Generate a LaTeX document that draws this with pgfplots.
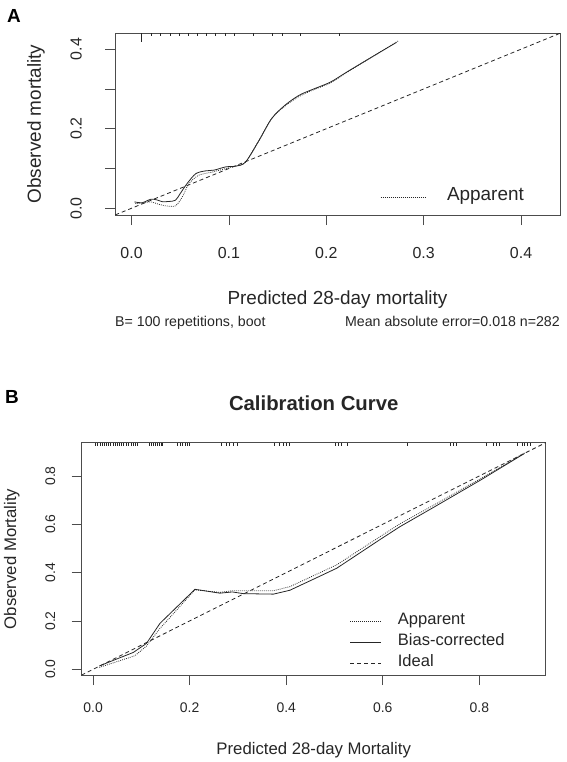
\documentclass[border=0pt]{standalone}
\usepackage{fontspec}
\setmainfont{Liberation Sans}
\usepackage{pgfplots}
\pgfplotsset{compat=1.18}
\definecolor{ink}{gray}{0.15}
\definecolor{boxc}{gray}{0.3}

\begin{document}
\begin{tikzpicture}
\path[use as bounding box] (0bp,0bp) rectangle (567bp,-762bp);

% ---------------- Panel A ----------------
\begin{axis}[
  scale only axis, width=445bp, height=181.7bp,
  at={(115bp,-215bp)}, anchor=south west,
  xmin=-0.017, xmax=0.44, ymin=-0.017, ymax=0.44,
  axis line style={boxc, line width=0.8bp},
  tick style={boxc, line width=0.8bp},
  tick align=outside, major tick length=10bp, tick pos=left,
  xtick={0,0.1,0.2,0.3,0.4}, xticklabels={0.0,0.1,0.2,0.3,0.4},
  ytick={0,0.1,0.2,0.3,0.4}, yticklabels={0.0,,0.2,,0.4},
  /pgf/number format/assume math mode=true,
  ticklabel style={font=\fontsize{16}{19}\selectfont, inner sep=0pt, text=ink},
  xticklabel style={anchor=north},
  yticklabel style={rotate=90, anchor=south},
  xticklabel shift=22bp, yticklabel shift=23bp,
  legend style={at={(0.5955,0.0985)}, anchor=west, draw=none, fill=none, inner sep=0pt,
    font=\fontsize{19}{22}\selectfont, text=ink,
    nodes={inner sep=0pt, text height=11.6bp, text depth=4bp},
    /tikz/every odd column/.append style={column sep=21bp}},
  legend image code/.code={\draw[#1] (0bp,0bp) -- (45bp,0bp);},
]
\addplot[ink, line width=0.8bp, dash pattern=on 4bp off 3bp, forget plot]
  coordinates {(-0.05,-0.05) (1,1)};
\addplot[ink, line width=0.8bp, smooth, tension=0.5, forget plot] coordinates {
(0.003,0.016) (0.011,0.014) (0.0197,0.0226) (0.026,0.021) (0.0316,0.0165)
(0.038,0.017) (0.045,0.020) (0.050,0.037) (0.057,0.062) (0.066,0.087)
(0.076,0.094) (0.085,0.096) (0.0966,0.104) (0.107,0.106) (0.117,0.116)
(0.131,0.171) (0.144,0.226) (0.158,0.260) (0.172,0.284) (0.185,0.298)
(0.204,0.317) (0.222,0.344) (0.252,0.388) (0.272,0.417)};
\addplot[ink, line width=0.8bp, dash pattern=on 0.8bp off 1.2bp, smooth, tension=0.5] coordinates {
(0.004,0.012) (0.012,0.013) (0.0197,0.016) (0.028,0.010) (0.035,0.006)
(0.045,0.006) (0.052,0.028) (0.059,0.062) (0.069,0.083) (0.083,0.091)
(0.1,0.102) (0.107,0.106) (0.117,0.116) (0.131,0.171) (0.144,0.226)
(0.158,0.258) (0.172,0.281) (0.185,0.296) (0.204,0.315) (0.222,0.343)
(0.252,0.388) (0.274,0.421)};
\addlegendentry{Apparent}
% rug
\addplot[only marks, mark=|, mark size=1.25bp, mark options={ink, line width=0.5bp}, forget plot] coordinates {
(0.0203,0.4369) (0.0292,0.4369) (0.0395,0.4369) (0.0487,0.4369) (0.0582,0.4369)
(0.0674,0.4369) (0.077,0.4369) (0.0862,0.4369) (0.0958,0.4369) (0.105,0.4369)
(0.1246,0.4369) (0.1444,0.4369) (0.1547,0.4369) (0.1728,0.4369) (0.2128,0.4369)};
\addplot[only marks, mark=|, mark size=4.5bp, mark options={ink, line width=0.6bp}, forget plot] coordinates {
(0.010,0.4287)};
\end{axis}

\node[anchor=base west, inner sep=0pt, font=\bfseries\fontsize{19}{22}\selectfont] at (7bp,-22bp) {A};
\node[rotate=90, inner sep=0pt, font=\fontsize{19}{22}\selectfont, text=ink] at (36bp,-124bp) {Observed mortality};
\node[anchor=base, inner sep=0pt, font=\fontsize{19}{22}\selectfont, text=ink] at (337.5bp,-304bp) {Predicted 28-day mortality};
\node[anchor=base west, inner sep=0pt, font=\fontsize{14.25}{17}\selectfont, text=ink] at (115bp,-326.5bp) {B= 100 repetitions, boot};
\node[anchor=base east, inner sep=0pt, font=\fontsize{14.25}{17}\selectfont, text=ink] at (560bp,-326.5bp) {Mean absolute error=0.018 n=282};

% ---------------- Panel B ----------------
\begin{axis}[
  scale only axis, width=464bp, height=232.3bp,
  at={(81.7bp,-675bp)}, anchor=south west,
  xmin=-0.0236, xmax=0.9375, ymin=-0.0236, ymax=0.9375,
  axis line style={boxc, line width=0.8bp},
  tick style={boxc, line width=0.8bp},
  tick align=outside, major tick length=10bp, tick pos=left,
  xtick={0,0.2,0.4,0.6,0.8}, xticklabels={0.0,0.2,0.4,0.6,0.8},
  ytick={0,0.2,0.4,0.6,0.8}, yticklabels={0.0,0.2,0.4,0.6,0.8},
  /pgf/number format/assume math mode=true,
  ticklabel style={font=\fontsize{14}{17}\selectfont, inner sep=0pt, text=ink},
  xticklabel style={anchor=north},
  yticklabel style={rotate=90, anchor=south},
  xticklabel shift=17.5bp, yticklabel shift=16.2bp,
  legend style={at={(0.578,0.139)}, anchor=west, draw=none, fill=none, inner sep=0pt,
    font=\fontsize{16.6}{20}\selectfont, text=ink,
    nodes={inner sep=0pt, text height=9.9bp, text depth=3.5bp},
    row sep=7.6bp,
    /tikz/every odd column/.append style={column sep=16bp}},
  legend image code/.code={\draw[#1] (0bp,0bp) -- (31bp,0bp);},
  legend cell align=left,
]
\addplot[ink, line width=0.8bp, dash pattern=on 0.8bp off 1.2bp] coordinates {
(0.013,0.008) (0.0865,0.056) (0.1105,0.096) (0.1385,0.169) (0.211,0.329)
(0.2625,0.318) (0.2865,0.325) (0.3735,0.325) (0.4075,0.342) (0.5045,0.432)
(0.5945,0.549) (0.6355,0.602) (0.7035,0.677) (0.8035,0.790) (0.8935,0.895)};
\addlegendentry{Apparent}
\addplot[ink, line width=0.8bp] coordinates {
(0.013,0.014) (0.0835,0.070) (0.1105,0.107) (0.1385,0.19) (0.211,0.331)
(0.2625,0.315) (0.2885,0.320) (0.3115,0.313) (0.3735,0.311) (0.4075,0.327)
(0.4535,0.37) (0.5045,0.418) (0.5945,0.537) (0.6355,0.590) (0.7035,0.668)
(0.8035,0.784) (0.8935,0.893)};
\addlegendentry{Bias-corrected}
\addplot[ink, line width=0.8bp, dash pattern=on 4bp off 3bp] coordinates {(-0.05,-0.05) (1,1)};
\addlegendentry{Ideal}
% rug
\addplot[only marks, mark=|, mark size=1.5bp, mark options={ink, line width=0.5bp}, forget plot] coordinates {
(0.005,0.9313) (0.0095,0.9313) (0.014,0.9313) (0.018,0.9313) (0.023,0.9313) (0.027,0.9313)
(0.032,0.9313) (0.036,0.9313) (0.041,0.9313) (0.045,0.9313) (0.050,0.9313) (0.054,0.9313)
(0.059,0.9313) (0.063,0.9313) (0.068,0.9313) (0.072,0.9313)
(0.079,0.9313) (0.084,0.9313) (0.088,0.9313) (0.092,0.9313)
(0.117,0.9313) (0.121,0.9313) (0.125,0.9313) (0.129,0.9313) (0.133,0.9313) (0.137,0.9313) (0.141,0.9313) (0.144,0.9313)
(0.175,0.9313) (0.180,0.9313) (0.185,0.9313) (0.190,0.9313) (0.195,0.9313) (0.200,0.9313)
(0.266,0.9313) (0.275,0.9313) (0.283,0.9313) (0.291,0.9313) (0.298,0.9313)
(0.376,0.9313) (0.385,0.9313) (0.393,0.9313) (0.400,0.9313) (0.407,0.9313)
(0.501,0.9313) (0.508,0.9313) (0.513,0.9313) (0.526,0.9313)
(0.650,0.9313)
(0.739,0.9313) (0.745,0.9313) (0.753,0.9313)
(0.815,0.9313) (0.829,0.9313) (0.835,0.9313) (0.842,0.9313)
(0.878,0.9313) (0.888,0.9313) (0.893,0.9313) (0.899,0.9313) (0.905,0.9313)};
\end{axis}

\node[anchor=base west, inner sep=0pt, font=\bfseries\fontsize{19}{22}\selectfont] at (5bp,-403bp) {B};
\node[anchor=base, inner sep=0pt, font=\bfseries\fontsize{20.4}{24}\selectfont, text=ink] at (313.7bp,-410.5bp) {Calibration Curve};
\node[rotate=90, inner sep=0pt, font=\fontsize{16.8}{20}\selectfont, text=ink] at (11.7bp,-558.9bp) {Observed Mortality};
\node[anchor=base, inner sep=0pt, font=\fontsize{16.8}{20}\selectfont, text=ink] at (313.7bp,-754bp) {Predicted 28-day Mortality};
\end{tikzpicture}
\end{document}
